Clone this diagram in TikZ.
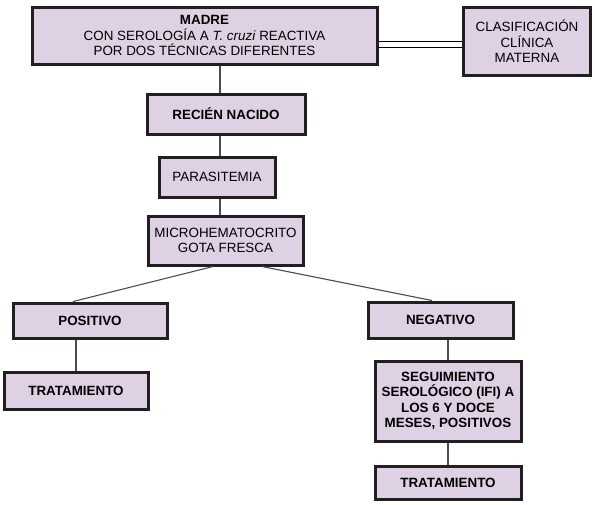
\documentclass[tikz,border=0pt]{standalone}
\usepackage{fontspec}
\setmainfont{Liberation Sans}
\usetikzlibrary{calc}
\definecolor{lila}{RGB}{221,209,227}
\definecolor{trazo}{RGB}{35,31,32}
\tikzset{
	caja/.style={draw=trazo, line width=3pt, fill=lila, inner sep=0pt, align=center, font=\fontsize{13.4}{15.5}\selectfont},
	cajab/.style={caja, font=\fontsize{13.4}{15.5}\selectfont\bfseries},
	enlace/.style={draw=black!70, line width=1.1pt}
}

\begin{document}
\begin{tikzpicture}[x=1pt, y=-1pt]
			%%%%% START %%%%%
			\useasboundingbox (0, 0) rectangle (595, 504);
			
			\node[caja, minimum width=345pt, minimum height=57pt] (madre) at (204.5, 35.5)
				{\textbf{MADRE}\\CON SEROLOGÍA A \textit{T. cruzi} REACTIVA\\POR DOS TÉCNICAS DIFERENTES};
			\node[caja, minimum width=127pt, minimum height=68pt] (clasif) at (527, 41.5)
				{CLASIFICACIÓN\\CLÍNICA\\MATERNA};
			
			\node[cajab, minimum width=158pt, minimum height=40pt] (recien) at (226, 114) {RECIÉN NACIDO};
			\node[caja, minimum width=116pt, minimum height=40pt] (parasit) at (217, 177) {PARASITEMIA};
			\node[caja, minimum width=155pt, minimum height=49pt] (micro) at (225.5, 240.5)
				{MICROHEMATOCRITO\\GOTA FRESCA};
			
			\node[cajab, minimum width=154pt, minimum height=35pt] (positivo) at (90, 320.5) {POSITIVO};
			\node[cajab, minimum width=145pt, minimum height=36pt] (negativo) at (440.5, 320) {NEGATIVO};
			
			\node[cajab, minimum width=144pt, minimum height=37pt] (trat1) at (76, 390.5) {TRATAMIENTO};
			\node[cajab, minimum width=146pt, minimum height=80pt] (seguim) at (448, 401)
				{SEGUIMIENTO\\SEROLÓGICO (IFI) A\\LOS 6 Y DOCE\\MESES, POSITIVOS};
			\node[cajab, minimum width=146pt, minimum height=33pt] (trat2) at (448, 482.5) {TRATAMIENTO};
			
			% lineas
			\coordinate (eje) at (220, 0);
			\draw[line width=1.3pt, double distance=4.5pt] ([yshift=-9pt]madre.east) -- ([yshift=-9pt]madre.east -| clasif.west);
			\draw[enlace] (madre.south -| eje) -- (recien.north -| eje);
			\draw[enlace] (recien.south -| eje) -- (parasit.north -| eje);
			\draw[enlace] (parasit.south -| eje) -- (micro.north -| eje);
			\draw[enlace] ([xshift=-12.5pt]micro.south) -- ([xshift=-17pt]positivo.north);
			\draw[enlace] ([xshift=36.5pt]micro.south) -- ([xshift=-8.5pt]negativo.north);
			\draw[enlace] (positivo.south -| trat1.north) -- (trat1.north);
			\draw[enlace] (negativo.south -| seguim.north) -- (seguim.north);
			\draw[enlace] (seguim.south) -- (trat2.north);
			
			%%%%% END %%%%%
\end{tikzpicture}
\end{document}
